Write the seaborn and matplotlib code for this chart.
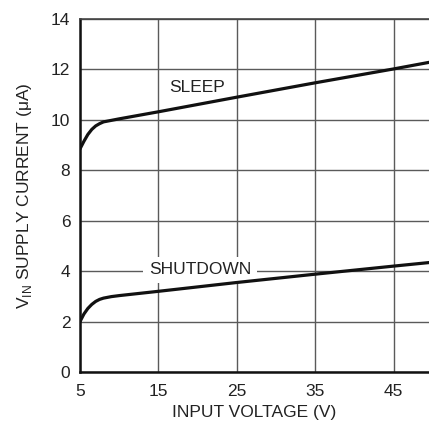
import matplotlib
matplotlib.use("Agg")
import matplotlib.pyplot as plt
import seaborn as sns
import pandas as pd

# Data
sleep_v = [5, 5.5, 6, 6.5, 7, 7.5, 8, 9, 10, 15, 25, 35, 45, 49.5]
sleep_i = [8.85, 9.15, 9.42, 9.62, 9.76, 9.85, 9.92, 9.98, 10.04, 10.32, 10.9, 11.47, 12.02, 12.28]
shut_v = [5, 5.5, 6, 6.5, 7, 7.5, 8, 9, 10, 15, 25, 35, 45, 49.5]
shut_i = [2.0, 2.3, 2.52, 2.68, 2.8, 2.88, 2.93, 2.99, 3.03, 3.2, 3.55, 3.88, 4.2, 4.34]
x_ticks = [5, 15, 25, 35, 45]
y_ticks = [0, 2, 4, 6, 8, 10, 12, 14]

sns.set_theme(style="white")
plt.rcParams['font.family'] = ['Liberation Sans', 'DejaVu Sans']

df = pd.concat([
    pd.DataFrame({"V": sleep_v, "I": sleep_i, "mode": "SLEEP"}),
    pd.DataFrame({"V": shut_v, "I": shut_i, "mode": "SHUTDOWN"}),
])

fig = plt.figure(figsize=(4.29, 4.24), dpi=100)
ax = fig.add_axes([80/429, 1-372/424, 1-80/429, (372-19)/424])

sns.lineplot(data=df, x="V", y="I", units="mode", estimator=None,
             color="#111111", linewidth=2.3, ax=ax, legend=False, zorder=3)

ax.set_xlim(5, 49.5)
ax.set_ylim(0, 14)
ax.set_xticks(x_ticks)
ax.set_yticks(y_ticks)
ax.grid(True, color="#5a5a5a", linewidth=1.0)
ax.set_axisbelow(True)
ax.tick_params(axis="x", length=0, labelsize=12.5, colors="#222222", pad=9)
ax.tick_params(axis="y", length=0, labelsize=12.5, colors="#222222", pad=7)

for side in ["left", "bottom"]:
    ax.spines[side].set_color("#111111")
    ax.spines[side].set_linewidth(1.8)
ax.spines["top"].set_color("#444444")
ax.spines["top"].set_linewidth(1.2)
ax.spines["right"].set_visible(False)

ax.set_xlabel("INPUT VOLTAGE (V)", fontsize=12.5, color="#222222", labelpad=4)
ax.set_ylabel("V$_{\\mathregular{IN}}$ SUPPLY CURRENT (μA)", fontsize=12.5, color="#222222", labelpad=12)

ax.text(19.9, 11.27, "SLEEP", fontsize=12.5, ha="center", va="center", color="#222222",
        zorder=4)
ax.text(20.3, 4.05, "SHUTDOWN", fontsize=12.5, ha="center", va="center", color="#222222",
        zorder=2, bbox=dict(facecolor="white", edgecolor="none", pad=4))

fig.savefig("out.png", dpi=100)
